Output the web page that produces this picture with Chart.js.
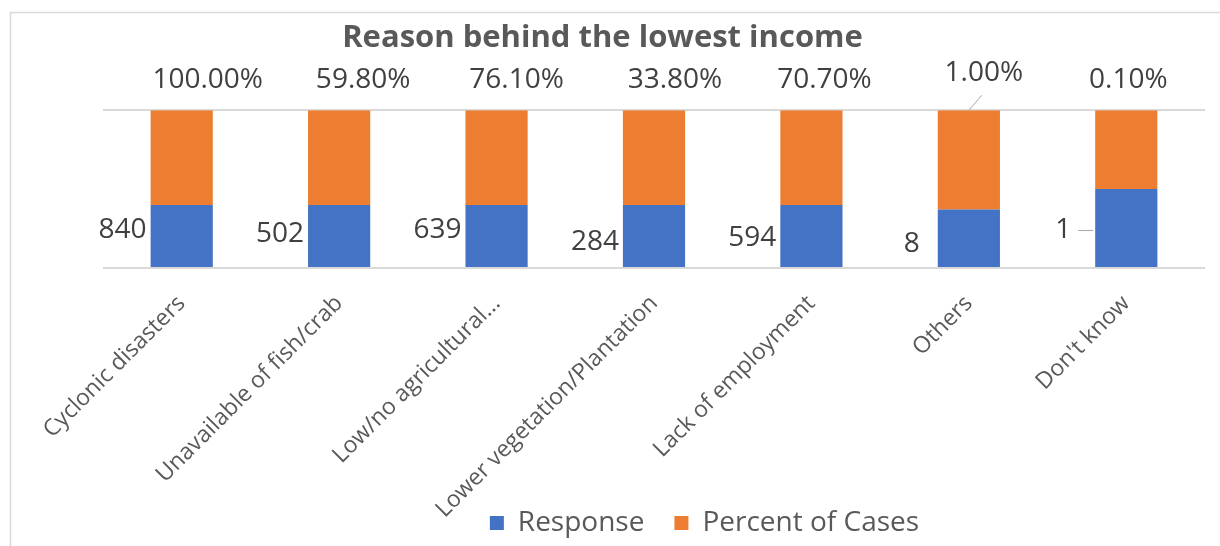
<!DOCTYPE html>
<html>
<head>
<meta charset="utf-8">
<script src="https://cdn.jsdelivr.net/npm/chart.js@4.4.1/dist/chart.umd.min.js"></script>
<style>
  html, body { margin: 0; padding: 0; background: #ffffff; }
  #wrap { position: relative; width: 1220px; height: 546px; }
</style>
</head>
<body>
<div id="wrap"><canvas id="c" width="1220" height="546"></canvas></div>
<script>
// ---- data ----
const categories = ["Cyclonic disasters", "Unavailable of fish/crab", "Low/no agricultural...", "Lower vegetation/Plantation", "Lack of employment", "Others", "Don't know"];
const responses = [840, 502, 639, 284, 594, 8, 1];
const percentOfCases = [100.0, 59.8, 76.1, 33.8, 70.7, 1.0, 0.1];
// segment heights as drawn in the reference (share of the 100% bar)
const responseShare = [40, 40, 40, 40, 40, 37, 50];
const percentShare = [60, 60, 60, 60, 60, 63, 50];

// label nudges (style only)
const pctNudgeX = [26, 24, 20, 21, 13, 15, 2];
const pctNudgeY = [0, 0, 0, 0, 0, -7, 0];
const respNudgeY = [-6, -2, -6, 6, 2, 6, 2];

const FONT = "'Open Sans', 'DejaVu Sans', sans-serif";
const TXT = '#404040';
const AX = '#595959';

const frame = {
  id: 'frame',
  beforeDraw(chart) {
    const ctx = chart.ctx;
    ctx.save();
    ctx.strokeStyle = '#D9D9D9';
    ctx.lineWidth = 1.5;
    ctx.beginPath();
    ctx.moveTo(10.5, 546);
    ctx.lineTo(10.5, 12.5);
    ctx.lineTo(1220, 12.5);
    ctx.stroke();
    ctx.restore();
  }
};

const layoutTweak = {
  id: 'layoutTweak',
  afterLayout(chart) {
    if (chart.legend) {
      chart.legend.left += 102;
      chart.legend.right += 102;
      chart.legend.top += 3;
      chart.legend.bottom += 3;
    }
    // let the rotated category labels run down past the legend area
    if (chart.scales.x) chart.scales.x.bottom = chart.height;
  }
};

const labels = {
  id: 'labels',
  afterDatasetsDraw(chart) {
    const ctx = chart.ctx;
    const m0 = chart.getDatasetMeta(0);
    const m1 = chart.getDatasetMeta(1);
    ctx.save();
    ctx.fillStyle = TXT;
    ctx.font = "28px " + FONT;
    ctx.textBaseline = 'middle';
    for (let i = 0; i < categories.length; i++) {
      const b = m0.data[i];
      const t = m1.data[i];
      const half = b.width / 2;
      ctx.textAlign = 'center';
      const px = t.x + pctNudgeX[i];
      const py = t.y - 30 + pctNudgeY[i];
      ctx.fillText(percentOfCases[i].toFixed(2) + '%', px, py);
      const midY = (b.y + b.base) / 2 + respNudgeY[i];
      ctx.textAlign = 'right';
      if (i === categories.length - 1) {
        ctx.fillText(String(responses[i]), b.x - half - 24, midY);
        ctx.strokeStyle = '#A6A6A6';
        ctx.lineWidth = 1;
        ctx.beginPath();
        ctx.moveTo(b.x - half - 17, midY + 0.5);
        ctx.lineTo(b.x - half - 2, midY + 0.5);
        ctx.stroke();
      } else if (i === 5) {
        ctx.fillText(String(responses[i]), b.x - half - 18, midY);
      } else {
        ctx.fillText(String(responses[i]), b.x - half - 4, midY);
      }
      if (i === 5) {
        ctx.strokeStyle = '#A6A6A6';
        ctx.lineWidth = 1;
        ctx.beginPath();
        ctx.moveTo(t.x, t.y);
        ctx.lineTo(t.x + 13, t.y - 15);
        ctx.stroke();
      }
    }
    ctx.restore();
  }
};

new Chart(document.getElementById('c'), {
  type: 'bar',
  data: {
    labels: categories,
    datasets: [
      { label: 'Response', data: responseShare, backgroundColor: '#4472C4', categoryPercentage: 1, barPercentage: 0.395 },
      { label: 'Percent of Cases', data: percentShare, backgroundColor: '#ED7D31', categoryPercentage: 1, barPercentage: 0.395 }
    ]
  },
  options: {
    responsive: false,
    animation: false,
    devicePixelRatio: 1,
    layout: { padding: { left: 0, right: 15, top: 12, bottom: 2 } },
    plugins: {
      tooltip: { enabled: false },
      title: {
        display: true,
        text: 'Reason behind the lowest income',
        color: AX,
        font: { family: FONT, size: 31, weight: 'bold' },
        padding: { top: 8, bottom: 53 }
      },
      legend: {
        position: 'bottom',
        labels: {
          color: AX,
          font: { family: FONT, size: 28 },
          boxWidth: 14,
          boxHeight: 14,
          padding: 30
        }
      }
    },
    scales: {
      x: {
        stacked: true,
        grid: { display: false },
        border: { display: false },
        ticks: {
          color: AX,
          font: { family: FONT, size: 23 },
          minRotation: 45,
          maxRotation: 45,
          padding: 14,
          autoSkip: false
        },
        afterFit(scale) { scale.height = 208; }
      },
      y: {
        stacked: true,
        min: 0,
        max: 100,
        ticks: { display: false, stepSize: 100 },
        grid: { color: '#D9D9D9', lineWidth: 2, drawTicks: false },
        border: { display: false },
        afterFit(scale) { scale.width = 103; }
      }
    }
  },
  plugins: [frame, layoutTweak, labels]
});
</script>
</body>
</html>
